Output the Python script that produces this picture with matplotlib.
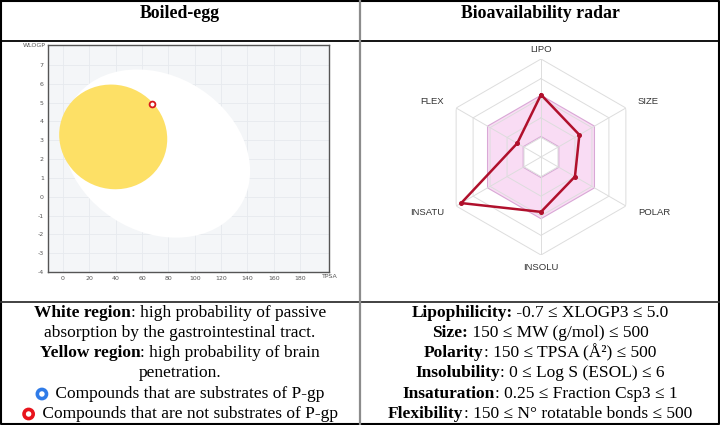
import numpy as np
from matplotlib import pyplot as plt
from matplotlib.patches import Ellipse, Circle
from matplotlib.offsetbox import TextArea, HPacker, AnnotationBbox, DrawingArea

plt.rcParams['axes.unicode_minus'] = False

# boiled-egg data
yolk = dict(center=(38.117, 3.177), width=82.061, height=5.557, angle=-0.1617)
white = dict(center=(71.051, 2.292), width=142.081, height=8.740, angle=-0.75)
tpsa = [67.6]
wlogp = [4.91]
xticks = [0, 20, 40, 60, 80, 100, 120, 140, 160, 180]
yticks = [-4, -3, -2, -1, 0, 1, 2, 3, 4, 5, 6, 7]

# radar data (fraction of full scale)
radar_labels = ["LIPO", "SIZE", "POLAR", "INSOLU", "INSATU", "FLEX"]
radar_values = [0.636, 0.452, 0.40, 0.56, 0.94, 0.28]
radar_rings = [0.2, 0.4, 0.6, 0.8, 1.0]
optimal_low = 0.21
optimal_high = 0.63

W, H = 720, 425
fig = plt.figure(figsize=(W / 100, H / 100), dpi=100)

#background axes in pixel coords for the table frame and the texts
bg = fig.add_axes([0, 0, 1, 1])
bg.set_xlim(0, W)
bg.set_ylim(H, 0)
bg.axis('off')

# table lines
bg.plot([1, 719, 719, 1, 1], [1, 1, 424, 424, 1], color='black', lw=1.5)
bg.plot([1, 719], [41, 41], color='black', lw=1.3)
bg.plot([1, 719], [302, 302], color='#333333', lw=1.3)
bg.plot([360, 360], [1, 424], color='#8c8c8c', lw=1.6)

serif = 'Liberation Serif'
bg.text(180, 13, "Boiled-egg", ha='center', va='center', family=serif, weight='bold', size=12.8)
bg.text(540, 13, "Bioavailability radar", ha='center', va='center', family=serif, weight='bold', size=12.8)

def rich_line(x, y, parts, marker=None):
    boxes = []
    if marker is not None:
        da = DrawingArea(11, 9, 0, 0)
        da.add_artist(Circle((4.5, 4.5), 3.3, fc='white', ec=marker, lw=2.6))
        boxes.append(da)
    for txt, bold in parts:
        boxes.append(TextArea(txt, textprops=dict(family=serif, size=12.5,
                                                  weight='bold' if bold else 'normal')))
    pack = HPacker(children=boxes, pad=0, sep=0, align='center')
    ab = AnnotationBbox(pack, (x, y), xycoords=bg.transData, frameon=False,
                        box_alignment=(0.5, 0.5), pad=0)
    bg.add_artist(ab)

rows = [313, 333, 353, 373, 394, 414]
rich_line(180, rows[0], [("White region", True), (": high probability of passive", False)])
rich_line(180, rows[1], [("absorption by the gastrointestinal tract.", False)])
rich_line(180, rows[2], [("Yellow region", True), (": high probability of brain", False)])
rich_line(180, rows[3], [("penetration.", False)])
rich_line(180, rows[4], [(" Compounds that are substrates of P-gp", False)], marker='#2f7be8')
rich_line(180, rows[5], [(" Compounds that are not substrates of P-gp", False)], marker='#e8141c')

rich_line(540, rows[0], [("Lipophilicity:", True), (" -0.7 \u2264 XLOGP3 \u2264 5.0", False)])
rich_line(540, rows[1], [("Size:", True), (" 150 \u2264 MW (g/mol) \u2264 500", False)])
rich_line(540, rows[2], [("Polarity", True), (": 150 \u2264 TPSA (\u00c5\u00b2) \u2264 500", False)])
rich_line(540, rows[3], [("Insolubility", True), (": 0 \u2264 Log S (ESOL) \u2264 6", False)])
rich_line(540, rows[4], [("Insaturation", True), (": 0.25 \u2264 Fraction Csp3 \u2264 1", False)])
rich_line(540, rows[5], [("Flexibility", True), (": 150 \u2264 N\u00b0 rotatable bonds \u2264 500", False)])

#boiled egg
ax = fig.add_axes([48 / W, (H - 272) / H, (329 - 48) / W, (272 - 45) / H])
ax.set_facecolor('#f4f6f8')
ax.set_xlim(-11.4, 202)
ax.set_ylim(-4, 8.06)
ax.set_xticks(xticks)
ax.set_yticks(yticks)
ax.grid(True, color='#e6eaee', lw=0.6)
ax.set_axisbelow(True)
ax.tick_params(length=0, labelsize=4.5, labelcolor='#555555', pad=3)
for s in ax.spines.values():
    s.set_color('#555555')
    s.set_linewidth(1.0)
ax.add_patch(Ellipse(white['center'], white['width'], white['height'], angle=white['angle'],
                     fc='white', ec='none', zorder=1))
ax.add_patch(Ellipse(yolk['center'], yolk['width'], yolk['height'], angle=yolk['angle'],
                     fc='#fde066', ec='none', zorder=2))
ax.plot(tpsa, wlogp, 'o', ms=4.2, mfc='white', mec='#d7191c', mew=1.3, zorder=3)
bg.text(46, 45, "WLOGP", ha='right', va='center', size=4.5, color='#555555')
bg.text(322, 277, "TPSA", ha='left', va='center', size=4.5, color='#555555')

#radar
rx = fig.add_axes([443 / W, (H - 255) / H, 196 / W, 196 / H], projection='polar')
rx.set_theta_zero_location('N')
rx.set_theta_direction(-1)
rx.set_ylim(0, 1)
rx.grid(False)
rx.set_xticks([])
rx.set_yticks([])
rx.spines['polar'].set_visible(False)
rx.patch.set_alpha(0)

angles = np.deg2rad(np.arange(len(radar_labels)) * 60.0)
closed = np.append(angles, angles[0])

rx.fill(closed, [optimal_high] * len(closed), fc='#f9dcf4', ec='#d9a8d6', lw=0.8, zorder=1)
rx.fill(closed, [optimal_low] * len(closed), fc='white', ec='#d9a8d6', lw=0.8, zorder=1.5)
for lv in radar_rings:
    rx.plot(closed, [lv] * len(closed), color='#dddddd', lw=0.7, zorder=2)
for a in angles:
    rx.plot([a, a], [0, 1], color='#dddddd', lw=0.7, zorder=2)

vals = radar_values + radar_values[:1]
rx.plot(closed, vals, color='#b0102c', lw=1.8, zorder=4)
rx.plot(angles, radar_values, 'o', color='#b0102c', ms=2.6, zorder=5)

label_pos = {"LIPO": (1.10, 'center'), "SIZE": (1.14, 'left'), "POLAR": (1.14, 'left'),
             "INSOLU": (1.13, 'center'), "INSATU": (1.14, 'right'), "FLEX": (1.14, 'right')}
for lab, a in zip(radar_labels, angles):
    r, ha = label_pos[lab]
    rx.text(a, r, lab, ha=ha, va='center', family='Liberation Sans', size=6.8,
            color='#333333', clip_on=False)

fig.savefig('out.png', dpi=100)
